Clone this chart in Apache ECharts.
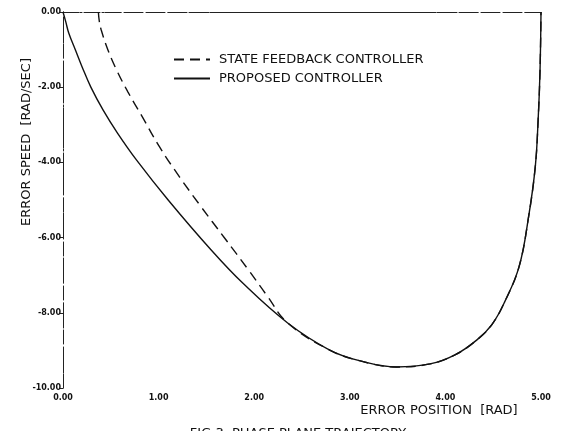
<!DOCTYPE html>
<html>
<head>
<meta charset="utf-8">
<script src="https://cdn.jsdelivr.net/npm/echarts@6/dist/echarts.min.js"></script>
<style>
html,body{margin:0;padding:0;background:#fff;}
#chart{width:562px;height:431px;}
</style>
</head>
<body>
<div id="chart"></div>
<script>
// Data (error position [rad], error speed [rad/sec])
var proposedX = [0.00, 0.03, 0.06, 0.13, 0.20, 0.29, 0.42, 0.57, 0.77, 1.10, 1.55, 1.88, 2.35, 2.79, 3.11, 3.49, 3.84, 4.10, 4.33, 4.49, 4.62, 4.77, 4.87, 4.94, 4.97, 4.99, 5.00];
var proposedY = [0.00, -0.27, -0.56, -1.01, -1.46, -1.99, -2.61, -3.22, -3.94, -5.00, -6.33, -7.21, -8.27, -8.99, -9.28, -9.44, -9.36, -9.12, -8.72, -8.30, -7.71, -6.78, -5.45, -4.12, -2.87, -1.54, 0.00];
var stateFbX = [0.37, 0.38, 0.40, 0.47, 0.56, 0.68, 0.83, 1.01, 1.22, 1.43, 1.69, 1.94, 2.13, 2.35, 2.79, 3.11, 3.49, 3.84, 4.10, 4.33, 4.49, 4.62, 4.77, 4.87, 4.94, 4.97, 4.99, 5.00];
var stateFbY = [0.00, -0.25, -0.48, -1.01, -1.54, -2.13, -2.79, -3.59, -4.39, -5.13, -6.01, -6.86, -7.53, -8.27, -8.99, -9.28, -9.44, -9.36, -9.12, -8.72, -8.30, -7.71, -6.78, -5.45, -4.12, -2.87, -1.54, 0.00];
var seriesNames = ['STATE FEEDBACK CONTROLLER', 'PROPOSED CONTROLLER'];
var xTitle = 'ERROR POSITION  [RAD]';
var yTitle = 'ERROR SPEED  [RAD/SEC]';
var caption = 'FIG.3  PHASE PLANE TRAJECTORY';

function pairs(xs, ys){ return xs.map(function(x,i){ return [x, ys[i]]; }); }

var chart = echarts.init(document.getElementById('chart'));
var tickFont = {fontFamily:'DejaVu Sans', fontWeight:'bold', fontSize:8, color:'#111'};
var txtFont = 'DejaVu Sans';
chart.setOption({
  backgroundColor:'#fff',
  animation:false,
  grid:{left:63, right:21, top:12, bottom:43},
  legend:{
    orient:'vertical', left:168, top:48, itemWidth:36, itemHeight:10, itemGap:6,
    data:seriesNames,
    itemStyle:{opacity:0},
    textStyle:{fontFamily:txtFont, fontSize:13, color:'#111', padding:[0,0,0,4]}
  },
  xAxis:[{
    type:'value', min:0, max:5, interval:1, position:'bottom',
    axisLine:{lineStyle:{color:'#222', width:1, type:[14,3,2,3]}},
    axisTick:{show:false}, splitLine:{show:false},
    axisLabel:Object.assign({margin:6, formatter:function(v){return v.toFixed(2);}}, tickFont)
  },{
    type:'value', min:0, max:5, position:'top',
    axisLine:{lineStyle:{color:'#222', width:1, type:[16,5]}},
    axisTick:{show:false}, axisLabel:{show:false}, splitLine:{show:false}
  }],
  yAxis:[{
    type:'value', min:-10, max:0, interval:2, position:'left',
    axisLine:{lineStyle:{color:'#222', width:1, type:[14,3,2,3]}},
    axisTick:{show:true, length:3, lineStyle:{color:'#222'}}, splitLine:{show:false},
    axisLabel:Object.assign({margin:2, formatter:function(v){return v.toFixed(2);}}, tickFont)
  },{
    type:'value', min:-10, max:0, position:'right',
    axisLine:{lineStyle:{color:'#222', width:1, type:[10,5]}},
    axisTick:{show:false}, axisLabel:{show:false}, splitLine:{show:false}
  }],
  series:[{
    name:seriesNames[0], type:'line', data:pairs(stateFbX, stateFbY),
    showSymbol:false, symbol:'none', smooth:0.4, z:2,
    lineStyle:{color:'#111', width:1.4, type:[10,6]}, itemStyle:{color:'#111'}
  },{
    name:seriesNames[1], type:'line', data:pairs(proposedX, proposedY),
    showSymbol:false, symbol:'none', smooth:0.4, z:3,
    lineStyle:{color:'#111', width:1.4, type:'solid'}, itemStyle:{color:'#111'}
  }],
  graphic:[
    {type:'text', x:27, y:142, rotation:Math.PI/2,
     style:{text:yTitle, fontFamily:txtFont, fontSize:13, fill:'#111', textAlign:'center', textVerticalAlign:'middle'}},
    {type:'text', x:439, y:411,
     style:{text:xTitle, fontFamily:txtFont, fontSize:13, fill:'#111', textAlign:'center', textVerticalAlign:'middle'}},
    {type:'text', x:298, y:434,
     style:{text:caption, fontFamily:txtFont, fontSize:13, fill:'#111', textAlign:'center', textVerticalAlign:'middle'}}
  ]
});
</script>
</body>
</html>
